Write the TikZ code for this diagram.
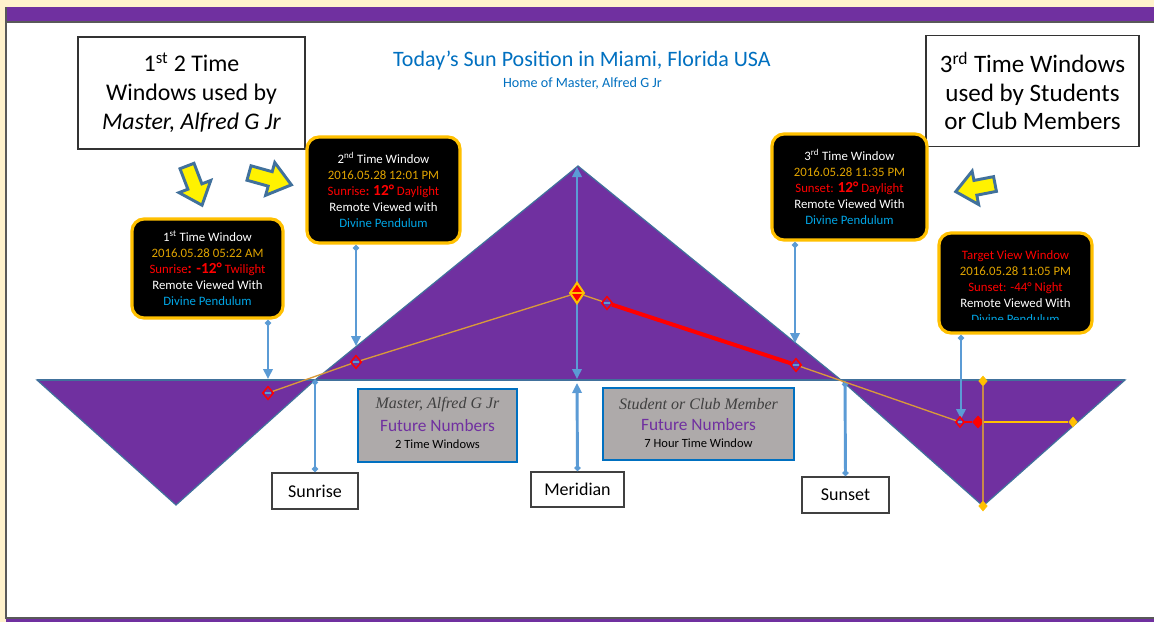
\documentclass[tikz,border=0pt]{standalone}
\usepackage{fontspec}
\setmainfont{Carlito}
\newfontfamily\serifit{Liberation Serif}
\usetikzlibrary{arrows.meta,shapes.geometric}
\definecolor{cream}{HTML}{FFF2CC}
\definecolor{ppl}{HTML}{7030A0}
\definecolor{edgeblue}{HTML}{41719C}
\definecolor{conn}{HTML}{5B9BD5}
\definecolor{gold}{HTML}{FFC000}
\definecolor{goldtxt}{HTML}{E0A400}
\definecolor{skyt}{HTML}{00A6E6}
\definecolor{titleblue}{HTML}{0070C0}
\definecolor{grayfill}{HTML}{AEAAAA}
\definecolor{sunpath}{HTML}{D99A3A}
\definecolor{vline}{HTML}{C8894A}
\definecolor{futpurple}{HTML}{7030A0}
\definecolor{frame}{HTML}{595959}
\begin{document}
\begin{tikzpicture}[x=0.75pt,y=-0.75pt,
  tri/.style={fill=ppl,draw=edgeblue,line width=0.9pt,line join=miter},
  callout/.style={rectangle,rounded corners=9pt,fill=black,draw=gold,line width=2.4pt,
    align=center,inner sep=0pt,font=\fontsize{9.6}{12}\selectfont},
  calltext/.style={align=center,inner sep=0pt,font=\fontsize{9.6}{12}\selectfont},
  wbox/.style={rectangle,draw=black!80,line width=0.9pt,fill=white,align=center,inner sep=0pt},
  lbox/.style={rectangle,draw=black!75,line width=0.9pt,fill=white,inner sep=0pt,
    font=\fontsize{13.5}{16}\selectfont},
  gbox/.style={rectangle,fill=grayfill,draw=titleblue,line width=2.2pt,inner sep=0pt},
  cn/.style={conn,line width=2.2pt},
  mk/.style={diamond,draw=red,line width=1.1pt,inner sep=0pt,minimum width=8.5pt,minimum height=10pt,
    path picture={\draw[conn,line width=1.3pt] ([xshift=2pt]path picture bounding box.west) -- ([xshift=-2pt]path picture bounding box.east);}},
  mkfill/.style={diamond,fill=red,draw=red,line width=0.6pt,inner sep=0pt,minimum width=8pt,minimum height=9pt},
  mkgold/.style={diamond,fill=gold,draw=gold,inner sep=0pt,minimum width=6.5pt,minimum height=7.5pt},
  mkapex/.style={diamond,fill=red,draw=gold,line width=1.5pt,inner sep=0pt,minimum width=11pt,minimum height=16pt,
    path picture={\draw[gold,line width=1pt] (path picture bounding box.west) -- (path picture bounding box.east);}},
  yarr/.style={fill=yellow,draw=edgeblue,line width=2.2pt,line join=miter}
]
\useasboundingbox (0,0) rectangle (1154,622);
% page
\fill[cream] (0,0) rectangle (1154,622);
\fill[white] (6,7) rectangle (1154,618);
\fill[ppl] (6,7) rectangle (1154,22);
\draw[frame,line width=0.8pt] (6,22) -- (1154,22);
\draw[frame,line width=1.2pt] (6,7) -- (6,618) -- (1154,618);
\fill[ppl] (6,619) rectangle (1154,622);

% triangles
\filldraw[tri] (37,380) -- (315,380) -- (176,505) -- cycle;
\filldraw[tri] (841,380) -- (1125,380) -- (983,506) -- cycle;
\filldraw[tri] (315,380) -- (578,166) -- (841,380) -- cycle;
\draw[edgeblue,line width=0.9pt] (37,380) -- (1125,380);

% titles
\node[text=titleblue,font=\fontsize{16.5}{20}\selectfont] (title) at (582,61) {Today’s Sun Position in Miami, Florida USA};
\node[text=titleblue,font=\fontsize{10.6}{12}\selectfont] (subtitle) at (582.5,83) {Home of Master, Alfred G Jr};

% white boxes
\node[wbox,minimum width=170.25pt,minimum height=84pt,font=\fontsize{17.9}{21.75}\selectfont] (tl) at (191.5,93)
  {1\textsuperscript{st} 2 Time\\Windows used by\\\textit{Master, Alfred G Jr}};
\node[wbox,minimum width=159.75pt,minimum height=83.25pt,font=\fontsize{18.8}{21.4}\selectfont] (tr) at (1032.5,91)
  {3\textsuperscript{rd} Time Windows\\used by Students\\or Club Members};

% callouts
\node[callout,minimum width=113.25pt,minimum height=74.25pt] (c1) at (207.5,268.5)
  {\color{white}1\textsuperscript{st} Time Window\\
   \color{goldtxt}2016.05.28 05:22 AM\\
   \color{red}Sunrise{\bfseries\fontsize{11.5}{12}\selectfont: -12°} Twilight\\
   \color{white}Remote Viewed With\\
   \color{skyt}Divine Pendulum};
\node[callout,minimum width=114.75pt,minimum height=79.5pt] (c2) at (383.5,190)
  {\color{white}2\textsuperscript{nd} Time Window\\
   \color{goldtxt}2016.05.28 12:01 PM\\
   \color{red}Sunrise{\bfseries:} {\bfseries\fontsize{11.5}{12}\selectfont 12°} Daylight\\
   \color{white}Remote Viewed with\\
   \color{skyt}Divine Pendulum};
\node[callout,minimum width=116.25pt,minimum height=79.5pt] (c3) at (849.5,187)
  {\color{white}3\textsuperscript{rd} Time Window\\
   \color{goldtxt}2016.05.28 11:35 PM\\
   \color{red}Sunset: {\bfseries\fontsize{11.5}{12}\selectfont 12°} Daylight\\
   \color{white}Remote Viewed With\\
   \color{skyt}Divine Pendulum};
\node[callout,minimum width=114.75pt,minimum height=75pt] (tv) at (1015.5,283) {};
\begin{scope}
  \clip (941,236) rectangle (1090,319.5);
  \node[calltext] (tvtext) at (1015.5,287)
  {\color{red}Target View Window\\
   \color{goldtxt}2016.05.28 11:05 PM\\
   \color{red}Sunset: -44° Night\\
   \color{white}Remote Viewed With\\
   \color{skyt}Divine Pendulum};
\end{scope}

% grey boxes
\node[gbox,minimum width=119.25pt,minimum height=54.75pt] (gl) at (437.5,425.5) {};
\node[text=black!75,font=\serifit\itshape\fontsize{12}{13}\selectfont] (gl1) at (437.5,405) {Master, Alfred G Jr};
\node[text=futpurple,font=\fontsize{13}{15}\selectfont] (gl2) at (437.5,426) {Future Numbers};
\node[text=black,font=\fontsize{9.4}{11}\selectfont] (gl3) at (437.5,444) {2 Time Windows};
\node[gbox,minimum width=143.25pt,minimum height=54pt] (gr) at (698.5,424) {};
\node[text=black!75,font=\serifit\itshape\fontsize{12}{13}\selectfont] (gr1) at (698.5,404) {Student or Club Member};
\node[text=futpurple,font=\fontsize{13}{15}\selectfont] (gr2) at (698.5,425) {Future Numbers};
\node[text=black,font=\fontsize{9.4}{11}\selectfont] (gr3) at (698.5,443) {7 Hour Time Window};

% labels
\node[lbox,minimum width=64.5pt,minimum height=27pt] (lsr) at (315,491) {Sunrise};
\node[lbox,minimum width=69.75pt,minimum height=26.25pt] (lmer) at (577.5,489.5) {Meridian};
\node[lbox,minimum width=65.25pt,minimum height=27pt] (lss) at (845.5,495) {Sunset};

% connector end points
\coordinate (a1) at (268,379);
\coordinate (a2) at (356,346);
\coordinate (a3) at (795,343);
\coordinate (a4) at (961,419);
\coordinate (sr) at (315,379);
\coordinate (ss) at (845,381);
\coordinate (ap) at (577,167);
\coordinate (mb) at (577,379);
\coordinate (mb2) at (577,383);

% connectors
\draw[cn,{Diamond[length=5pt,width=5pt]}-{Triangle[length=7.5pt,width=7pt]}] (c1.south -| a1) -- (a1);
\draw[cn,{Diamond[length=5pt,width=5pt]}-{Triangle[length=7.5pt,width=7pt]}] (c2.south -| a2) -- (a2);
\draw[cn,{Diamond[length=5pt,width=5pt]}-{Triangle[length=7.5pt,width=7pt]}] (c3.south -| a3) -- (a3);
\draw[cn,{Diamond[length=5pt,width=5pt]}-{Triangle[length=7.5pt,width=7pt]}] (tv.south -| a4) -- (a4);
\draw[cn,{Diamond[length=5pt,width=5pt]}-{Diamond[length=5pt,width=5pt]}] (sr) -- (lsr.north);
\draw[cn,{Diamond[length=5pt,width=5pt]}-{Diamond[length=5pt,width=5pt]}] (ss) -- (lss.north);
\draw[cn,{Triangle[length=7.5pt,width=7pt]}-{Triangle[length=7.5pt,width=7pt]}] (mb) -- (ap);
\draw[cn,{Diamond[length=5pt,width=5pt]}-{Triangle[length=7.5pt,width=7pt]}] (lmer.north) -- (mb2);

% sun path markers
\node[mk] (s1) at (268,393) {};
\node[mk] (s2) at (356,362) {};
\node[mkapex] (s3) at (577,293) {};
\node[mk] (s4) at (607,303) {};
\node[mk] (s5) at (796,365) {};
\node[mk,minimum width=7pt,minimum height=8pt] (s6) at (960,422) {};
\node[mkfill] (s7) at (978,422) {};
\node[mkgold] (s8) at (1073,422) {};
\node[mkgold] (v1) at (983,381) {};
\node[mkgold] (v2) at (983,506) {};

% sun path lines
\draw[sunpath,line width=1pt] (s1) -- (s2);
\draw[sunpath,line width=1pt] (s2) -- (s3);
\draw[sunpath,line width=1pt] (s3) -- (s4);
\draw[red,line width=3pt] (s4) -- (s5);
\draw[sunpath,line width=1pt] (s5) -- (s6);
\draw[red,line width=2.2pt] (s6) -- (s7);
\draw[gold,line width=2.2pt] (s7) -- (s8);
\draw[vline,line width=1pt] (v1) -- (v2);

% yellow block arrows
\filldraw[yarr,shift={(187,166)},rotate=-69] (0,-7.5) -- (22,-7.5) -- (22,-17) -- (42,0) -- (22,17) -- (22,7.5) -- (0,7.5) -- cycle;
\filldraw[yarr,shift={(249,173)},rotate=-15.6] (0,-7.5) -- (22,-7.5) -- (22,-17) -- (44,0) -- (22,17) -- (22,7.5) -- (0,7.5) -- cycle;
\filldraw[yarr,shift={(995,184)},rotate=191] (0,-7.5) -- (20,-7.5) -- (20,-17) -- (40,0) -- (20,17) -- (20,7.5) -- (0,7.5) -- cycle;
\end{tikzpicture}
\end{document}
